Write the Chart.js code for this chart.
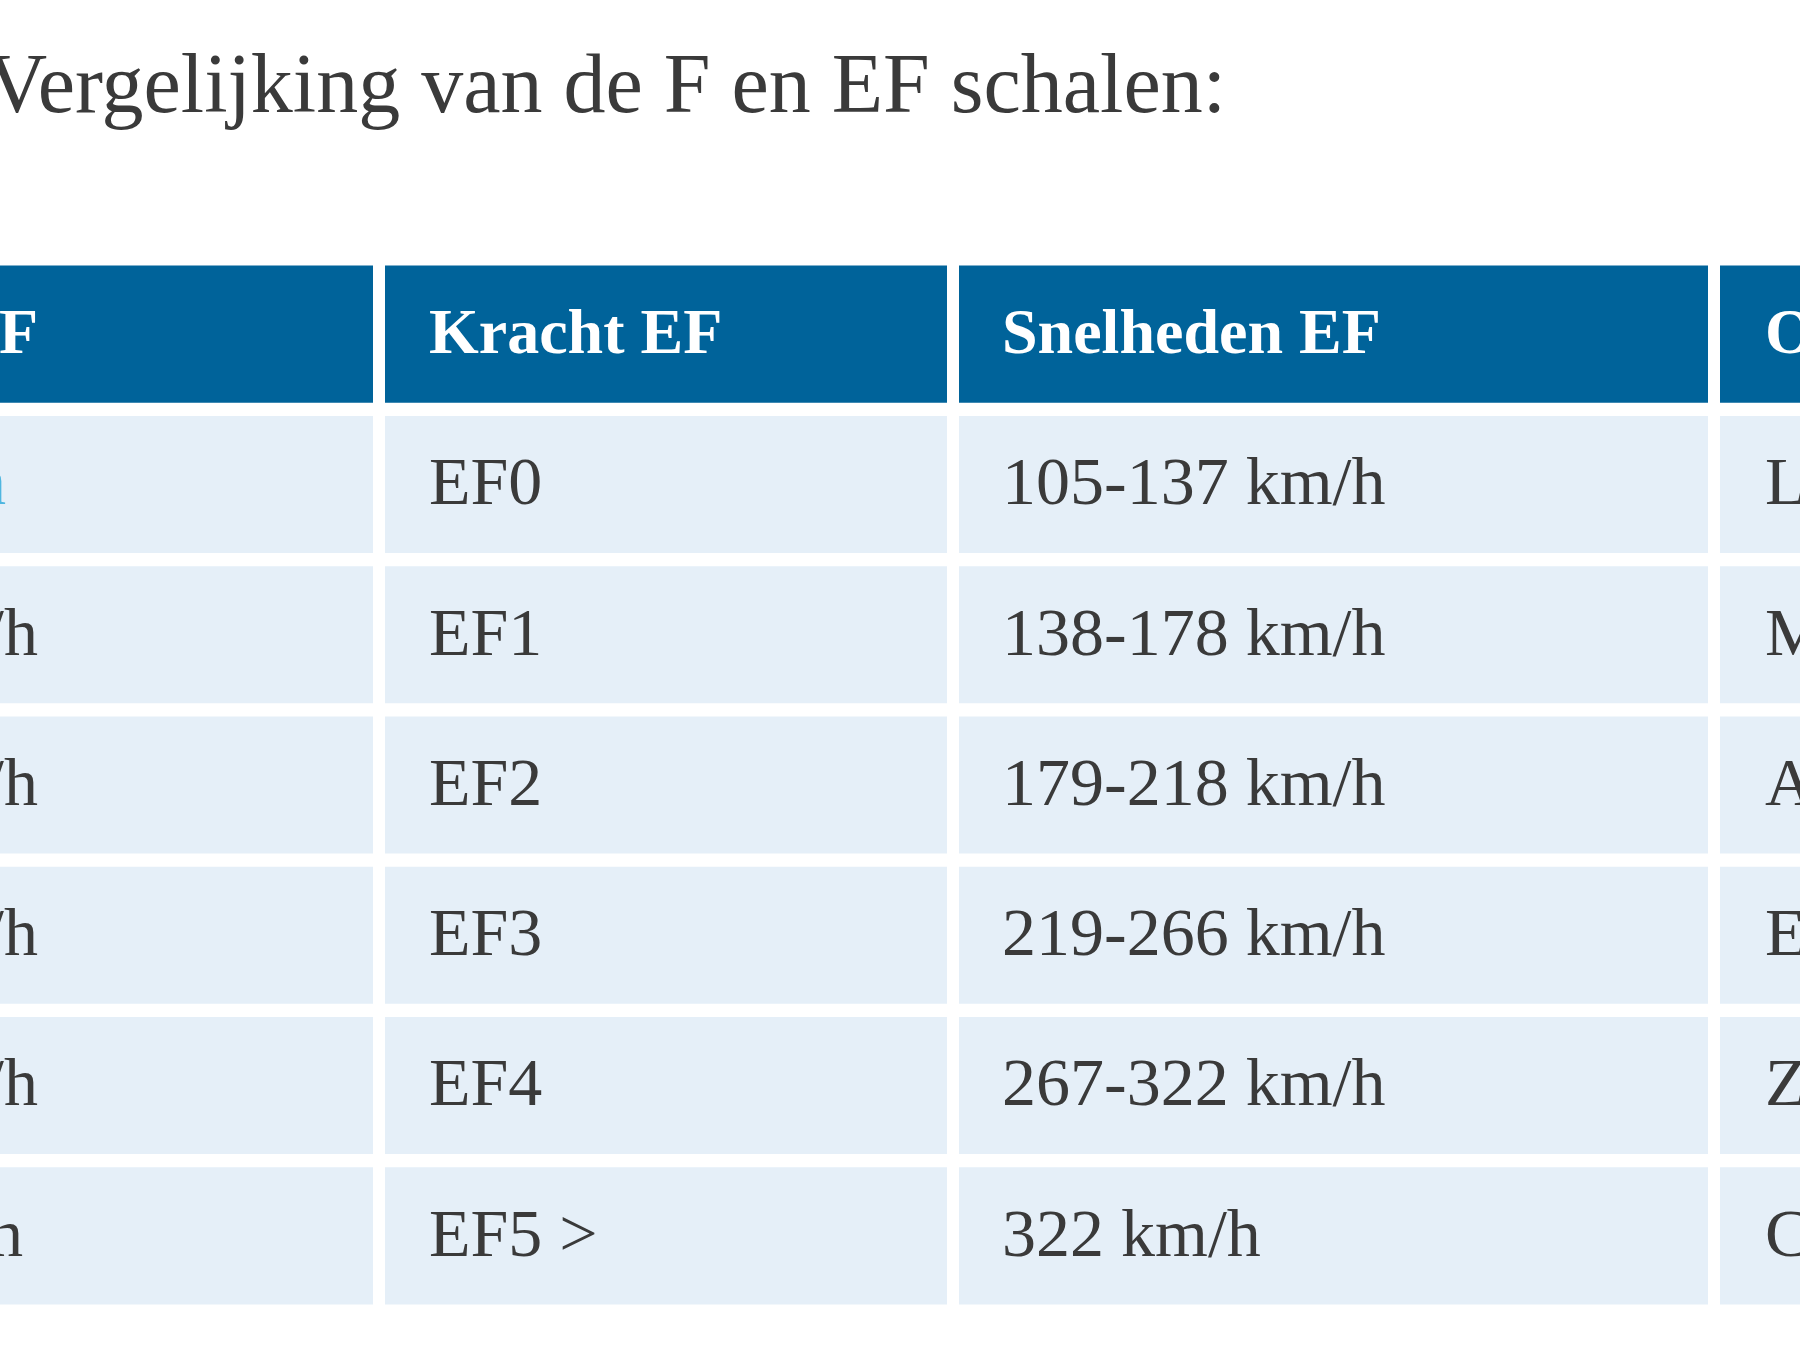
<!DOCTYPE html>
<html>
<head>
<meta charset="utf-8">
<script src="https://cdn.jsdelivr.net/npm/chart.js@4"></script>
<style>
  html, body { margin: 0; padding: 0; background: #fff; overflow: hidden; }
  #wrap { width: 1800px; height: 1350px; position: relative; }
</style>
</head>
<body>
<div id="wrap"><canvas id="myChart"></canvas></div>
<script>
const titleText = 'Vergelijking van de F en EF schalen:';
const rows = ['header', 'r0', 'r1', 'r2', 'r3', 'r4', 'r5'];
const headers = ['Snelheden F', 'Kracht EF', 'Snelheden EF', 'Omschrijving'];
const speedsF = ['64-116 km/h', '117-180 km/h', '181-253 km/h', '254-332 km/h', '333-418 km/h', '419-512 km/h'];
const forceEF = ['EF0', 'EF1', 'EF2', 'EF3', 'EF4', 'EF5 >'];
const speedsEF = ['105-137 km/h', '138-178 km/h', '179-218 km/h', '219-266 km/h', '267-322 km/h', '322 km/h'];
const descr = ['Licht', 'Matig', 'Aanzienlijk', 'Ernstig', 'Zwaar', 'Catastrofaal'];

// column edges [left, right] and text x
const cols = [
    { span: [-400, 373], textX: 38, align: 'right' },
    { span: [385, 947], textX: 429, align: 'left' },
    { span: [959, 1708], textX: 1002, align: 'left' },
    { span: [1720, 2300], textX: 1765, align: 'left' }
];
const columnTexts = [speedsF, forceEF, speedsEF, descr];

const headerColor = '#00639a';
const cellColor = '#e5eff8';
const textColor = '#3a3a3a';

const datasets = cols.map((c, i) => ({
    label: headers[i],
    data: rows.map(() => c.span),
    backgroundColor: rows.map((r, j) => j === 0 ? headerColor : cellColor),
    borderWidth: 0,
    grouped: false,
    categoryPercentage: 1,
    barPercentage: 0.912
}));

const tableText = {
    id: 'tableText',
    afterDatasetsDraw(chart) {
        const ctx = chart.ctx;
        const y = chart.scales.y;
        ctx.save();
        ctx.textBaseline = 'middle';
        // title
        ctx.font = '84px "Liberation Serif"';
        ctx.fillStyle = '#3a3a3a';
        ctx.textAlign = 'right';
        ctx.fillText(titleText, 1226, 90);
        cols.forEach((c, i) => {
            ctx.textAlign = c.align;
            ctx.font = 'bold 64px "Liberation Serif"';
            ctx.fillStyle = '#ffffff';
            ctx.fillText(headers[i], i === 0 ? 38 : c.textX, y.getPixelForValue(0) + 2);
            ctx.font = '68px "Liberation Serif"';
            columnTexts[i].forEach((t, j) => {
                ctx.fillStyle = (i === 0 && j === 0) ? '#4fb6e0' : textColor;
                const tx = (i === 0 && j === 0) ? 6 : (i === 0 && j === 5 ? 23 : c.textX);
                ctx.fillText(t, tx, y.getPixelForValue(j + 1) + 2);
            });
        });
        ctx.restore();
    }
};

const ctx = document.getElementById('myChart').getContext('2d');
const chart = new Chart(ctx, {
    type: 'bar',
    data: { labels: rows, datasets: datasets },
    options: {
        indexAxis: 'y',
        responsive: true,
        maintainAspectRatio: false,
        animation: false,
        devicePixelRatio: 1,
        layout: { padding: { top: 259, bottom: 39, left: 0, right: 0 } },
        scales: {
            x: { type: 'linear', min: 0, max: 1800, display: false },
            y: { type: 'category', display: false }
        },
        plugins: {
            legend: { display: false },
            tooltip: { enabled: false },
            title: { display: false }
        }
    },
    plugins: [tableText]
});
</script>
</body>
</html>
